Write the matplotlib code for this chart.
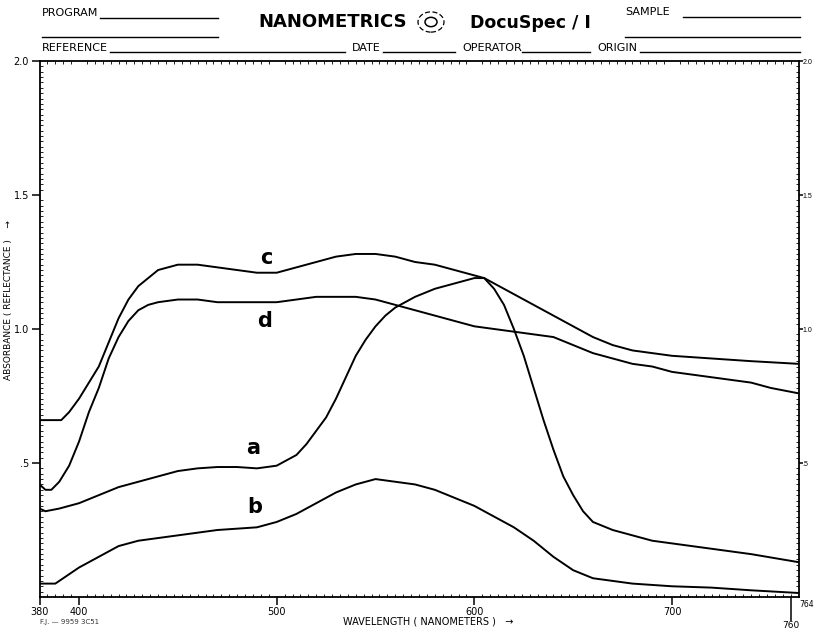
import numpy as np
import matplotlib.pyplot as plt
from matplotlib.patches import Circle

# curve c
wl_c = [380, 391, 395, 400, 405, 410, 415, 420, 425, 430, 435, 440, 450, 460, 470,
        480, 490, 500, 510, 520, 530, 540, 550, 560, 570, 580, 590, 600, 605, 610,
        620, 630, 640, 650, 660, 670, 680, 690, 700, 720, 740, 764]
abs_c = [0.66, 0.66, 0.69, 0.74, 0.80, 0.86, 0.95, 1.04, 1.11, 1.16, 1.19, 1.22, 1.24, 1.24, 1.23,
         1.22, 1.21, 1.21, 1.23, 1.25, 1.27, 1.28, 1.28, 1.27, 1.25, 1.24, 1.22, 1.20, 1.19, 1.17,
         1.13, 1.09, 1.05, 1.01, 0.97, 0.94, 0.92, 0.91, 0.90, 0.89, 0.88, 0.87]

# curve d
wl_d = [380, 383, 386, 390, 395, 400, 405, 410, 415, 420, 425, 430, 435, 440, 450,
        460, 470, 480, 490, 500, 510, 520, 530, 540, 550, 560, 570, 580, 590, 600,
        610, 620, 630, 640, 650, 660, 670, 680, 690, 700, 720, 740, 750, 764]
abs_d = [0.42, 0.40, 0.40, 0.43, 0.49, 0.58, 0.69, 0.78, 0.89, 0.97, 1.03, 1.07, 1.09, 1.10, 1.11,
         1.11, 1.10, 1.10, 1.10, 1.10, 1.11, 1.12, 1.12, 1.12, 1.11, 1.09, 1.07, 1.05, 1.03, 1.01,
         1.00, 0.99, 0.98, 0.97, 0.94, 0.91, 0.89, 0.87, 0.86, 0.84, 0.82, 0.80, 0.78, 0.76]

# curve a
wl_a = [380, 383, 390, 400, 410, 420, 430, 440, 450, 460, 470, 480, 490, 500, 505,
        510, 515, 520, 525, 530, 535, 540, 545, 550, 555, 560, 570, 580, 590, 600, 605,
        610, 615, 620, 625, 630, 635, 640, 645, 650, 655, 660, 670, 680, 690, 700,
        720, 740, 764]
abs_a = [0.33, 0.32, 0.33, 0.35, 0.38, 0.41, 0.43, 0.45, 0.47, 0.48, 0.485, 0.485, 0.48, 0.49, 0.51,
         0.53, 0.57, 0.62, 0.67, 0.74, 0.82, 0.90, 0.96, 1.01, 1.05, 1.08, 1.12, 1.15, 1.17, 1.19, 1.19,
         1.15, 1.09, 1.00, 0.90, 0.78, 0.66, 0.55, 0.45, 0.38, 0.32, 0.28, 0.25, 0.23, 0.21, 0.20,
         0.18, 0.16, 0.13]

# curve b
wl_b = [380, 385, 388, 392, 400, 410, 420, 425, 430, 440, 450, 460, 470, 480, 490,
        500, 510, 520, 530, 540, 550, 560, 570, 580, 590, 600, 610, 620, 630, 640,
        650, 660, 670, 680, 700, 720, 740, 764]
abs_b = [0.05, 0.05, 0.05, 0.07, 0.11, 0.15, 0.19, 0.20, 0.21, 0.22, 0.23, 0.24, 0.25, 0.255, 0.26,
         0.28, 0.31, 0.35, 0.39, 0.42, 0.44, 0.43, 0.42, 0.40, 0.37, 0.34, 0.30, 0.26, 0.21, 0.15,
         0.10, 0.07, 0.06, 0.05, 0.04, 0.035, 0.025, 0.015]

curve_labels = ["c", "d", "a", "b"]
label_pos = [(495, 1.265), (494, 1.03), (488, 0.555), (489, 0.335)]

x_ticks = [380, 400, 500, 600, 700]
y_ticks = [0.5, 1.0, 1.5, 2.0]
y_ticklabels = [".5", "1.0", "1.5", "2.0"]

plt.rcParams["font.family"] = ["Liberation Sans Narrow", "DejaVu Sans"]

W, H = 814, 633
fig = plt.figure(figsize=(W / 100, H / 100), dpi=100)
fig.patch.set_facecolor("white")

def fx(px):
    return px / W

def fy(py):
    return 1 - py / H

ax = fig.add_axes([fx(39.5), fy(597), fx(798.5) - fx(39.5), fy(61) - fy(597)])
ax.set_xlim(380, 764)
ax.set_ylim(0, 2.0)

for wl, ab in [(wl_c, abs_c), (wl_d, abs_d), (wl_a, abs_a), (wl_b, abs_b)]:
    ax.plot(wl, ab, color="black", lw=1.4, solid_joinstyle="round")

for lab, (xx, yy) in zip(curve_labels, label_pos):
    ax.text(xx, yy, lab, fontsize=15, fontweight="bold", ha="center", va="center",
            family="DejaVu Sans")

for s in ax.spines.values():
    s.set_linewidth(1.3)

ax.set_xticks(x_ticks)
ax.set_xticklabels([str(v) for v in x_ticks], fontsize=7)
ax.set_yticks(y_ticks)
ax.set_yticklabels(y_ticklabels, fontsize=7)
ax.tick_params(axis="both", which="major", direction="out", length=6, width=1.1, pad=1.5)
ax.set_xticks(np.arange(384, 764, 4), minor=True)
ax.set_yticks(np.arange(0.02, 2.0, 0.02), minor=True)
ax.tick_params(which="minor", direction="in", length=2, width=0.6,
               top=True, right=True, bottom=True, left=True)

# right-hand scale
sec_y = ax.secondary_yaxis("right")
sec_y.set_yticks(y_ticks)
sec_y.set_yticklabels(y_ticklabels, fontsize=5,
                      family=["Liberation Sans Narrow", "Liberation Sans"])
sec_y.tick_params(length=3, width=1.1, pad=0)
sec_y.spines["right"].set_visible(False)

# extra 760 tick below the axis
sec = ax.secondary_xaxis("bottom")
sec.set_xticks([760])
sec.set_xticklabels(["760"], fontsize=6.5)
sec.tick_params(length=17, width=1.1, pad=0)
sec.spines["bottom"].set_visible(False)
ax.text(1.001, -0.006, "764", transform=ax.transAxes, fontsize=5.5, ha="left", va="top")

fig.text(fx(9), fy(300), "ABSORBANCE ( REFLECTANCE )    \u2192", rotation=90,
         fontsize=6.5, ha="center", va="center")
fig.text(fx(428), fy(622), "WAVELENGTH ( NANOMETERS )   \u2192", fontsize=7,
         ha="center", va="center")
fig.text(fx(40), fy(622), "F.J. \u2014 9959 3C51", fontsize=5, ha="left", va="center",
         color="#333333")

# header
def rule(x0, x1, y):
    fig.add_artist(plt.Line2D([fx(x0), fx(x1)], [fy(y), fy(y)], color="black", lw=1.0))

fig.text(fx(42), fy(13), "PROGRAM", fontsize=8, ha="left", va="center")
rule(100, 218, 18)
rule(42, 218, 37)
fig.text(fx(333), fy(22), "NANOMETRICS", fontsize=13, fontweight="bold",
         ha="center", va="center", family="DejaVu Sans")
fig.add_artist(Circle((fx(431), fy(22)), 13 / W, transform=fig.transFigure,
                      fill=False, lw=0.9, ls=(0, (4, 2))))
fig.add_artist(Circle((fx(431), fy(22)), 6 / W, transform=fig.transFigure,
                      fill=False, lw=1.1))
fig.text(fx(530), fy(23), "DocuSpec / I", fontsize=12.5, fontweight="bold",
         ha="center", va="center", family="DejaVu Sans")
fig.text(fx(625), fy(12), "SAMPLE", fontsize=8, ha="left", va="center")
rule(683, 800, 17)
rule(625, 800, 37)
fig.text(fx(42), fy(48), "REFERENCE", fontsize=8, ha="left", va="center")
rule(110, 345, 52)
fig.text(fx(352), fy(48), "DATE", fontsize=8, ha="left", va="center")
rule(383, 455, 52)
fig.text(fx(462), fy(48), "OPERATOR", fontsize=8, ha="left", va="center")
rule(522, 590, 52)
fig.text(fx(597), fy(48), "ORIGIN", fontsize=8, ha="left", va="center")
rule(640, 800, 52)

fig.savefig("out.png", dpi=100)
